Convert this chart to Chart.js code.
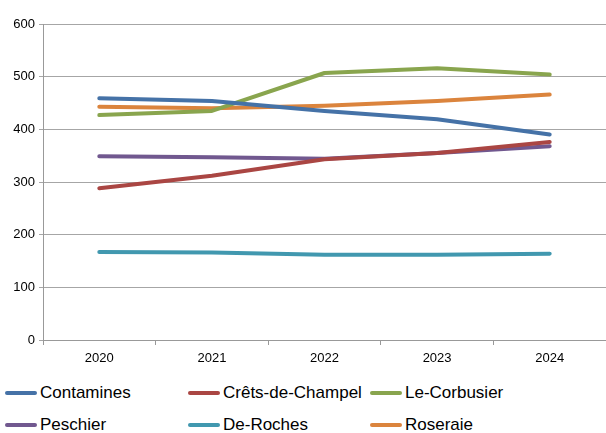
<!DOCTYPE html>
<html><head><meta charset="utf-8">
<script src="https://cdn.jsdelivr.net/npm/chart.js@4"></script>
<style>
html,body{margin:0;padding:0;background:#fff;width:606px;height:433px;overflow:hidden;font-family:"Liberation Sans",Arial,sans-serif;}
#wrap{position:absolute;left:0;top:0;width:606px;height:372px;}
#legend{position:absolute;left:0;top:378px;width:606px;height:55px;}
.item{position:absolute;display:flex;align-items:center;font-size:17px;color:#000;white-space:nowrap;}
.sw{width:32px;height:4px;border-radius:2px;margin-right:3px;}
</style></head>
<body>
<div id="wrap"><canvas id="c" width="606" height="372"></canvas></div>
<div id="legend"></div>
<script>
const years = ['2020','2021','2022','2023','2024'];
const seriesNames = ['Contamines','Crêts-de-Champel','Le-Corbusier','Peschier','De-Roches','Roseraie'];
const contamines = [459, 454, 435, 419, 390];
const cretsDeChampel = [288, 312, 343, 355, 376];
const leCorbusier = [427, 435, 507, 516, 504];
const peschier = [349, 347, 344, 355, 368];
const deRoches = [167, 166, 162, 162, 164];
const roseraie = [443, 440, 445, 454, 466];
const colors = ['#4572A7','#AA4643','#89A54E','#71588F','#4198AF','#DB843D'];
const yTicks = [0,100,200,300,400,500,600];

const allValues = [contamines, cretsDeChampel, leCorbusier, peschier, deRoches, roseraie];
const datasets = seriesNames.map((n,i)=>({
  label:n, data:allValues[i], borderColor:colors[i], backgroundColor:colors[i],
  borderWidth:4, pointRadius:0, tension:0, borderCapStyle:'round', borderJoinStyle:'round', fill:false
}));
const font = {family:'"Liberation Sans", Arial, sans-serif', size:13};
new Chart(document.getElementById('c'), {
  type:'line',
  data:{labels:years, datasets},
  options:{
    responsive:false, animation:false,
    layout:{padding:{top:24,right:0,left:0,bottom:0}},
    plugins:{legend:{display:false}, tooltip:{enabled:false}},
    scales:{
      x:{
        offset:true,
        grid:{display:true, drawOnChartArea:false, drawTicks:true, tickLength:5, color:'#999', offset:true},
        border:{display:true,color:'#999',width:1},
        ticks:{font, color:'#000', padding:6, maxRotation:0},
        afterFit(s){ s.height = 32; }
      },
      y:{
        min:0,max:600,
        afterBuildTicks(s){ s.ticks = yTicks.map(v=>({value:v})); },
        grid:{color:'#a6a6a6', lineWidth:1, tickLength:4, drawTicks:true},
        border:{display:true,color:'#999',width:1},
        ticks:{font, color:'#000', padding:4},
        afterFit(s){ s.width = 43; }
      }
    }
  }
});
const leg = document.getElementById('legend');
const cols=[5,188,370], rows=[5,37];
seriesNames.forEach((n,i)=>{
  const d=document.createElement('div'); d.className='item';
  d.style.left=cols[i%3]+'px'; d.style.top=rows[Math.floor(i/3)]+'px';
  d.innerHTML='<span class="sw" style="background:'+colors[i]+'"></span>'+n;
  leg.appendChild(d);
});
</script>
</body></html>
